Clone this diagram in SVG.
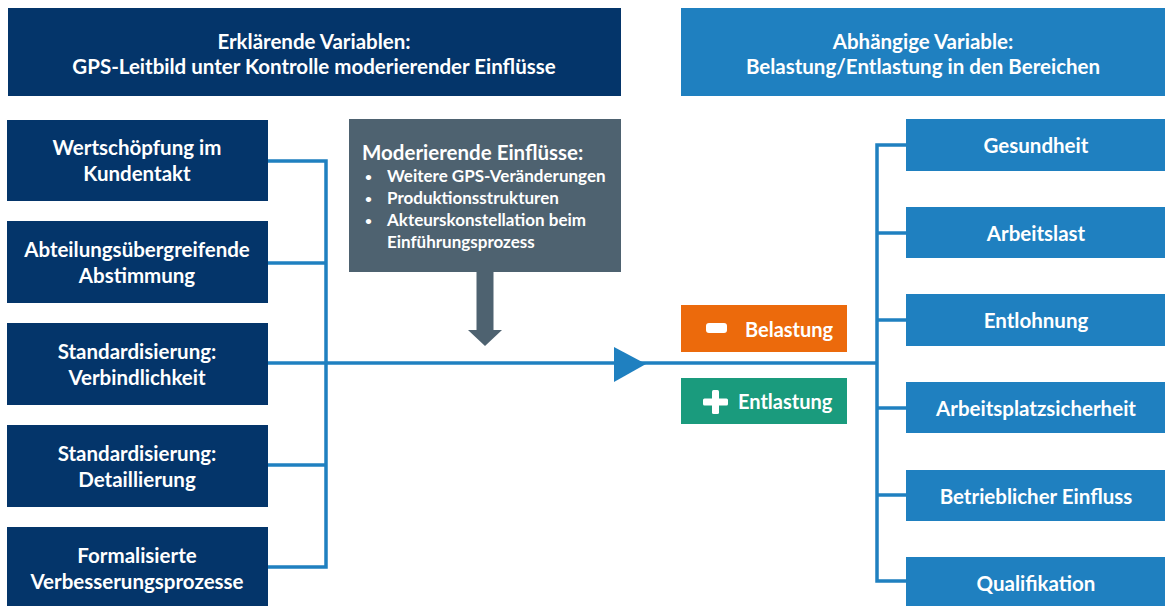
<svg xmlns="http://www.w3.org/2000/svg" width="1165" height="606" viewBox="0 0 1165 606">
<style>
text{font-family:Lato,"Open Sans","Liberation Sans",sans-serif;font-weight:bold;fill:#fff;}
.dark{fill:#04356A;}
.blue{fill:#1F80C0;}
.t{font-size:20.5px;text-anchor:middle;}
.h{font-size:20.5px;text-anchor:middle;}
.m{font-size:17px;}
.b{font-size:12px;}
.conn{fill:none;stroke:#1F80C0;stroke-width:3.5;}
</style>
<rect width="1165" height="606" fill="#fff"/>
<g id="header-left"><rect class="dark" x="8" y="8" width="613" height="88"/>
<text class="h" x="314" y="49">Erklärende Variablen:</text>
<text class="h" x="314" y="74">GPS-Leitbild unter Kontrolle moderierender Einflüsse</text></g>
<g id="header-right"><rect class="blue" x="681" y="8" width="484" height="88"/>
<text class="h" x="923" y="49">Abhängige Variable:</text>
<text class="h" x="923" y="74">Belastung/Entlastung in den Bereichen</text></g>

<g id="connectors">
<polyline class="conn" points="268,161 326,161 326,567 268,567"/>
<line class="conn" x1="268" y1="263" x2="326" y2="263"/>
<line class="conn" x1="268" y1="465" x2="326" y2="465"/>
<line class="conn" x1="268" y1="363" x2="877" y2="363"/>
<polygon points="614,347 646,364 614,382" fill="#1F80C0"/>
<polyline class="conn" points="906,145 877,145 877,581 906,581"/>
<line class="conn" x1="877" y1="233" x2="906" y2="233"/>
<line class="conn" x1="877" y1="320" x2="906" y2="320"/>
<line class="conn" x1="877" y1="408" x2="906" y2="408"/>
<line class="conn" x1="877" y1="495" x2="906" y2="495"/>
<polygon points="476.5,272 493.5,272 493.5,330 502,330 485,346 468,330 476.5,330" fill="#4E6270"/>
</g>

<g id="n1"><rect class="dark" x="7" y="120" width="261" height="81"/>
<text class="t" x="137" y="155">Wertschöpfung im</text><text class="t" x="137" y="181">Kundentakt</text></g>
<g id="n2"><rect class="dark" x="7" y="221" width="261" height="82"/>
<text class="t" x="137" y="257">Abteilungsübergreifende</text><text class="t" x="137" y="283">Abstimmung</text></g>
<g id="n3"><rect class="dark" x="7" y="323" width="261" height="82"/>
<text class="t" x="137" y="359">Standardisierung:</text><text class="t" x="137" y="385">Verbindlichkeit</text></g>
<g id="n4"><rect class="dark" x="7" y="425" width="261" height="82"/>
<text class="t" x="137" y="461">Standardisierung:</text><text class="t" x="137" y="487">Detaillierung</text></g>
<g id="n5"><rect class="dark" x="7" y="527" width="261" height="80"/>
<text class="t" x="137" y="563">Formalisierte</text><text class="t" x="137" y="589">Verbesserungsprozesse</text></g>

<g id="moderator"><rect x="349" y="119" width="272" height="153" fill="#4E6270"/>
<text x="362" y="160" style="font-size:20.5px">Moderierende Einflüsse:</text>
<text x="365" y="181" class="b">•</text><text x="387" y="182" class="m">Weitere GPS-Veränderungen</text>
<text x="365" y="203" class="b">•</text><text x="387" y="204" class="m">Produktionsstrukturen</text>
<text x="365" y="225" class="b">•</text><text x="387" y="226" class="m">Akteurskonstellation beim</text>
<text x="387" y="248" class="m">Einführungsprozess</text>
</g>

<g id="belastung"><rect x="681" y="305" width="166" height="47" fill="#EC6A0C"/>
<rect x="706" y="323" width="21" height="10" rx="3" fill="#fff"/>
<text x="745" y="337" style="font-size:20px">Belastung</text></g>
<g id="entlastung"><rect x="681" y="378" width="166" height="46" fill="#1A9B7D"/>
<rect x="703" y="398.5" width="25" height="7" rx="1.5" fill="#fff"/>
<rect x="712" y="390" width="7" height="24" rx="1.5" fill="#fff"/>
<text x="738" y="409" style="font-size:20px">Entlastung</text></g>

<g id="r1"><rect class="blue" x="906" y="119" width="259" height="52"/><text class="t" x="1036" y="153">Gesundheit</text></g>
<g id="r2"><rect class="blue" x="906" y="207" width="259" height="51"/><text class="t" x="1036" y="241">Arbeitslast</text></g>
<g id="r3"><rect class="blue" x="906" y="294" width="259" height="52"/><text class="t" x="1036" y="328">Entlohnung</text></g>
<g id="r4"><rect class="blue" x="906" y="382" width="259" height="51"/><text class="t" x="1036" y="416">Arbeitsplatzsicherheit</text></g>
<g id="r5"><rect class="blue" x="906" y="470" width="259" height="51"/><text class="t" x="1036" y="504">Betrieblicher Einfluss</text></g>
<g id="r6"><rect class="blue" x="906" y="557" width="259" height="49"/><text class="t" x="1036" y="591">Qualifikation</text></g>
</svg>
